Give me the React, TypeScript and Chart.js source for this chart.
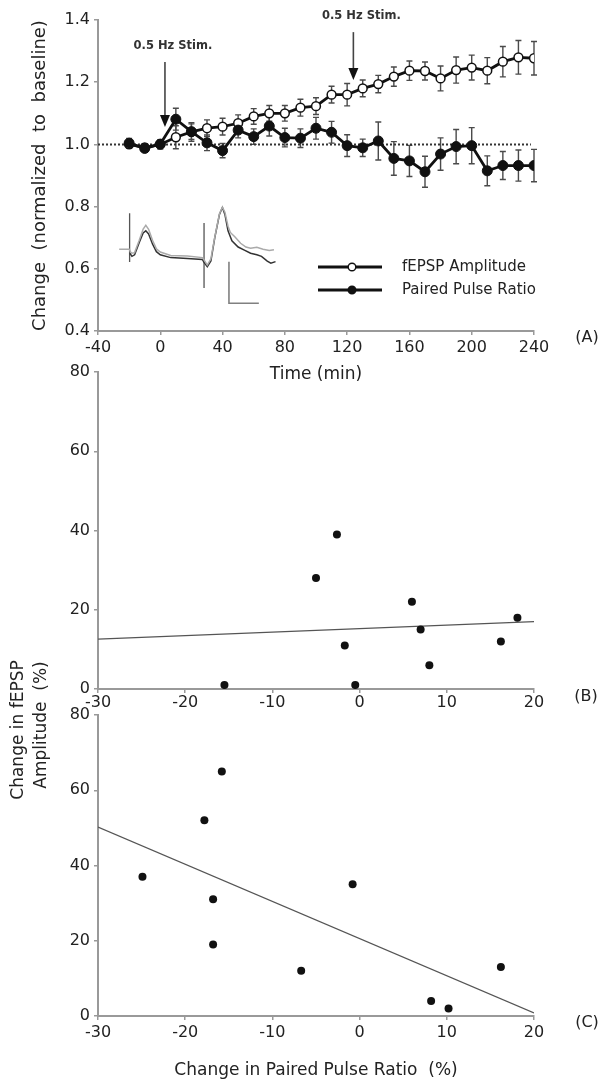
import React, { useEffect, useRef } from "react";
import { Chart, registerables } from "chart.js";

Chart.register(...registerables);

const FONT = "'DejaVu Sans', 'Liberation Sans', sans-serif";
Chart.defaults.font.family = FONT;

// ---------- Panel A data ----------
const timeMin = [-20, -10, 0, 10, 20, 30, 40, 50, 60, 70, 80, 90, 100, 110, 120, 130, 140, 150, 160, 170, 180, 190, 200, 210, 220, 230, 240];
const fepspAmp = [1.0, 0.99, 1.0, 1.023, 1.04, 1.052, 1.057, 1.068, 1.09, 1.1, 1.1, 1.118, 1.123, 1.16, 1.16, 1.18, 1.194, 1.218, 1.237, 1.236, 1.212, 1.239, 1.247, 1.237, 1.266, 1.28, 1.277];
const fepspErr = [0.012, 0.012, 0.015, 0.037, 0.03, 0.027, 0.027, 0.027, 0.025, 0.025, 0.025, 0.027, 0.027, 0.027, 0.036, 0.027, 0.028, 0.031, 0.031, 0.029, 0.04, 0.042, 0.04, 0.042, 0.049, 0.054, 0.054];
const pprRatio = [1.004, 0.987, 1.001, 1.081, 1.041, 1.005, 0.98, 1.046, 1.025, 1.059, 1.022, 1.02, 1.052, 1.039, 0.996, 0.989, 1.011, 0.955, 0.947, 0.912, 0.969, 0.993, 0.996, 0.915, 0.932, 0.932, 0.932];
const pprErr = [0.015, 0.01, 0.01, 0.035, 0.025, 0.025, 0.023, 0.025, 0.025, 0.032, 0.03, 0.03, 0.035, 0.035, 0.035, 0.028, 0.061, 0.054, 0.05, 0.05, 0.052, 0.055, 0.058, 0.048, 0.045, 0.05, 0.052];
const baselineT = [-40, 238];
const baselineV = [1.0, 1.0];
const xTicksA = { min: -40, max: 240, step: 40 };
const yTicksA = { min: 0.4, max: 1.4, step: 0.2 };

// stimulation annotations (time, arrow top value, arrow tip value)
const stimTimes = [3, 124];
const stimArrowTop = [1.265, 1.361];
const stimArrowTip = [1.056, 1.207];
const stimLabels = ["0.5 Hz Stim.", "0.5 Hz Stim."];

// inset sample traces (expressed in panel A axis units)
const traceGrey: number[][] = [
  [-26.4, 0.663], [-19.9, 0.663], [-19.2, 0.655], [-18.2, 0.65], [-16.5, 0.652], [-13.5, 0.692], [-11, 0.728], [-9.3, 0.74],
  [-7.5, 0.727], [-5, 0.692], [-2.5, 0.664], [0, 0.654], [6.7, 0.643], [17.4, 0.641], [27, 0.636], [28.2, 0.628],
  [30.2, 0.612], [32.5, 0.632], [35, 0.702], [38, 0.777], [39.9, 0.798], [41.5, 0.782], [43.5, 0.737], [45, 0.717],
  [48, 0.702], [51.6, 0.682], [55, 0.67], [58, 0.666], [62, 0.669], [66, 0.663], [70, 0.659], [73, 0.661],
];
const traceBlack: number[][] = [
  [-19.5, 0.65], [-18.2, 0.64], [-16.5, 0.645], [-13.5, 0.685], [-11, 0.715], [-9.3, 0.722], [-7.5, 0.712], [-5, 0.68],
  [-2.5, 0.655], [0, 0.645], [6.7, 0.636], [17.4, 0.633], [27, 0.63], [28.2, 0.62], [30.2, 0.607], [32.5, 0.625],
  [35, 0.7], [38, 0.775], [39.9, 0.797], [41.5, 0.775], [43.5, 0.722], [46, 0.69], [50, 0.67], [54, 0.66],
  [58, 0.65], [62, 0.645], [65, 0.64], [68.7, 0.625], [71, 0.618], [74, 0.623],
];
const artifact1: number[][] = [[-19.7, 0.779], [-19.7, 0.622]];
const artifact2: number[][] = [[28.1, 0.747], [28.1, 0.538]];
const scaleBar: number[][] = [[44.1, 0.623], [44.1, 0.489], [63.3, 0.489]];

// ---------- Panel B data ----------
const pprChangeB = [-15.5, -5, -2.6, -1.7, -0.5, 6, 7, 8, 16.2, 18.1];
const fepspChangeB = [1, 28, 39, 11, 1, 22, 15, 6, 12, 18];
const fitBx = [-30, 20];
const fitBy = [12.6, 17.0];

// ---------- Panel C data ----------
const pprChangeC = [-24.9, -17.8, -16.8, -16.8, -15.8, -6.7, -0.8, 8.2, 10.2, 16.2];
const fepspChangeC = [37, 52, 31, 19, 65, 12, 35, 4, 2, 13];
const fitCx = [-30, 20];
const fitCy = [50.2, 0.8];

const xTicksBC = { min: -30, max: 20, step: 10 };
const yTicksBC = { min: 0, max: 80, step: 20 };

// ---------- helpers ----------
const TXT = "#222";
const AXIS = "#999";

const pts = (xs: number[], ys: number[]) => xs.map((x, i) => ({ x, y: ys[i] }));
const pairs = (arr: number[][]) => arr.map(([x, y]) => ({ x, y }));

function axis(min: number, max: number, step: number, pad: number, fmt?: (v: any) => string) {
  return {
    type: "linear",
    min,
    max,
    ticks: {
      stepSize: step,
      color: TXT,
      font: { family: FONT, size: 16 },
      padding: pad,
      maxRotation: 0,
      autoSkip: false,
      ...(fmt ? { callback: fmt } : {}),
    },
    grid: { display: true, drawOnChartArea: false, drawTicks: true, tickLength: 4, color: AXIS, lineWidth: 1.5 },
    border: { display: true, color: AXIS, width: 2 },
  };
}

const errorBarPlugin = {
  id: "errorBars",
  beforeDatasetsDraw(chart: any) {
    const ctx = chart.ctx;
    const yScale = chart.scales.y;
    chart.data.datasets.forEach((ds: any, i: number) => {
      if (!ds.errors) return;
      const meta = chart.getDatasetMeta(i);
      ctx.save();
      ctx.strokeStyle = "#4a4a4a";
      ctx.lineWidth = 1.4;
      meta.data.forEach((el: any, j: number) => {
        const v = ds.data[j].y;
        const e = ds.errors[j];
        const x = el.x;
        const yT = yScale.getPixelForValue(v + e);
        const yB = yScale.getPixelForValue(v - e);
        ctx.beginPath();
        ctx.moveTo(x, yT);
        ctx.lineTo(x, yB);
        ctx.moveTo(x - 3, yT);
        ctx.lineTo(x + 3, yT);
        ctx.moveTo(x - 3, yB);
        ctx.lineTo(x + 3, yB);
        ctx.stroke();
      });
      ctx.restore();
    });
  },
};

const annotA = {
  id: "annotA",
  afterDraw(chart: any) {
    const ctx = chart.ctx;
    const xs = chart.scales.x;
    const ys = chart.scales.y;
    ctx.save();
    // stimulation arrows
    stimTimes.forEach((t, i) => {
      const x = xs.getPixelForValue(t);
      const y0 = ys.getPixelForValue(stimArrowTop[i]);
      const y1 = ys.getPixelForValue(stimArrowTip[i]);
      ctx.strokeStyle = "#444";
      ctx.fillStyle = "#111";
      ctx.lineWidth = 1.6;
      ctx.beginPath();
      ctx.moveTo(x, y0);
      ctx.lineTo(x, y1 - 10);
      ctx.stroke();
      ctx.beginPath();
      ctx.moveTo(x, y1);
      ctx.lineTo(x - 5, y1 - 12);
      ctx.lineTo(x + 5, y1 - 12);
      ctx.closePath();
      ctx.fill();
      ctx.fillStyle = "#333";
      ctx.font = `bold 11.5px ${FONT}`;
      ctx.textAlign = "center";
      ctx.textBaseline = "middle";
      ctx.fillText(stimLabels[i], x + 8, y0 - 16);
    });
    // legend
    const rows = [
      { label: "fEPSP Amplitude", fill: "#fff", y: 267 },
      { label: "Paired Pulse Ratio", fill: "#111", y: 290 },
    ];
    rows.forEach((r) => {
      ctx.strokeStyle = "#111";
      ctx.lineWidth = 2.8;
      ctx.beginPath();
      ctx.moveTo(318, r.y);
      ctx.lineTo(382, r.y);
      ctx.stroke();
      ctx.beginPath();
      ctx.arc(352, r.y, 3.8, 0, Math.PI * 2);
      ctx.fillStyle = r.fill;
      ctx.fill();
      ctx.lineWidth = 1.4;
      ctx.stroke();
      ctx.fillStyle = TXT;
      ctx.font = `15px ${FONT}`;
      ctx.textAlign = "left";
      ctx.textBaseline = "middle";
      ctx.fillText(r.label, 402, r.y);
    });
    ctx.font = `16px ${FONT}`;
    ctx.textAlign = "center";
    ctx.fillStyle = TXT;
    ctx.fillText("(A)", 587, 338);
    ctx.restore();
  },
};

const annotB = {
  id: "annotB",
  afterDraw(chart: any) {
    const ctx = chart.ctx;
    ctx.save();
    ctx.fillStyle = TXT;
    ctx.font = `16px ${FONT}`;
    ctx.textAlign = "center";
    ctx.textBaseline = "middle";
    ctx.fillText("(B)", 586, 347);
    ctx.font = `17px ${FONT}`;
    ctx.translate(19, 380);
    ctx.rotate(-Math.PI / 2);
    ctx.fillText("Change in fEPSP", 0, 0);
    ctx.restore();
    ctx.save();
    ctx.fillStyle = TXT;
    ctx.font = `17px ${FONT}`;
    ctx.textAlign = "center";
    ctx.textBaseline = "middle";
    ctx.translate(42, 375);
    ctx.rotate(-Math.PI / 2);
    ctx.fillText("Amplitude  (%)", 0, 0);
    ctx.restore();
  },
};

const annotC = {
  id: "annotC",
  afterDraw(chart: any) {
    const ctx = chart.ctx;
    ctx.save();
    ctx.fillStyle = TXT;
    ctx.font = `16px ${FONT}`;
    ctx.textAlign = "center";
    ctx.textBaseline = "middle";
    ctx.fillText("(C)", 587, 323);
    ctx.restore();
  },
};

const noPlugins = { legend: { display: false }, tooltip: { enabled: false } };

function configA(): any {
  const traceDs = (data: number[][], color: string, w: number) => ({
    type: "line",
    data: pairs(data),
    borderColor: color,
    borderWidth: w,
    pointRadius: 0,
    fill: false,
    tension: 0,
    order: 6,
  });
  return {
    type: "line",
    data: {
      datasets: [
        {
          label: "fEPSP Amplitude",
          data: pts(timeMin, fepspAmp),
          errors: fepspErr,
          borderColor: "#111",
          borderWidth: 2.8,
          pointRadius: 4.4,
          pointBackgroundColor: "#fff",
          pointBorderColor: "#111",
          pointBorderWidth: 1.5,
          tension: 0,
          order: 2,
        },
        {
          label: "Paired Pulse Ratio",
          data: pts(timeMin, pprRatio),
          errors: pprErr,
          borderColor: "#111",
          borderWidth: 2.8,
          pointRadius: 5,
          pointBackgroundColor: "#111",
          pointBorderColor: "#111",
          pointBorderWidth: 1,
          tension: 0,
          order: 1,
        },
        {
          label: "baseline",
          data: pts(baselineT, baselineV),
          borderColor: "#333",
          borderWidth: 2,
          borderDash: [2, 2],
          pointRadius: 0,
          order: 5,
        },
        traceDs(traceGrey, "#aaa", 1.5),
        traceDs(traceBlack, "#333", 1.5),
        traceDs(artifact1, "#555", 1.3),
        traceDs(artifact2, "#555", 1.3),
        traceDs(scaleBar, "#808080", 1.6),
      ],
    },
    options: {
      animation: false,
      responsive: false,
      layout: { padding: { top: 20, right: 69, left: 0, bottom: 0 } },
      plugins: noPlugins,
      scales: {
        x: {
          ...axis(xTicksA.min, xTicksA.max, xTicksA.step, 3),
          afterFit: (s: any) => {
            s.height = 54;
          },
          title: { display: true, text: "Time (min)", color: TXT, font: { family: FONT, size: 17 }, padding: { top: 0, bottom: 0 } },
        },
        y: {
          ...axis(yTicksA.min, yTicksA.max, yTicksA.step, 4, (v: any) => Number(v).toFixed(1)),
          afterFit: (s: any) => {
            s.width = 98;
          },
          title: {
            display: true,
            text: "Change  (normalized  to  baseline)",
            color: TXT,
            font: { family: FONT, size: 18 },
            padding: { top: 30, bottom: 0 },
          },
        },
      },
    },
    plugins: [errorBarPlugin, annotA],
  };
}

function scatterConfig(xs: number[], ys: number[], fx: number[], fy: number[], xh: number, padTop: number, padBottom: number, tickPad: number, plugin: any, xTitle?: string, titlePad?: number): any {
  return {
    type: "scatter",
    data: {
      datasets: [
        {
          type: "scatter",
          data: pts(xs, ys),
          pointRadius: 4,
          pointBackgroundColor: "#111",
          pointBorderColor: "#111",
          pointBorderWidth: 0,
          order: 1,
        },
        {
          type: "line",
          data: pts(fx, fy),
          borderColor: "#555",
          borderWidth: 1.3,
          pointRadius: 0,
          order: 2,
        },
      ],
    },
    options: {
      animation: false,
      responsive: false,
      layout: { padding: { top: padTop, right: 69, left: 0, bottom: padBottom } },
      plugins: noPlugins,
      scales: {
        x: {
          ...axis(xTicksBC.min, xTicksBC.max, xTicksBC.step, tickPad),
          afterFit: (s: any) => {
            s.height = xh;
          },
          title: xTitle
            ? { display: true, text: xTitle, color: TXT, font: { family: FONT, size: 17 }, padding: { top: 0, bottom: titlePad } }
            : { display: false },
        },
        y: {
          ...axis(yTicksBC.min, yTicksBC.max, yTicksBC.step, 4),
          afterFit: (s: any) => {
            s.width = 98;
          },
        },
      },
    },
    plugins: [plugin],
  };
}

function Panel({ top, height, make }: { top: number; height: number; make: () => any }) {
  const ref = useRef<HTMLCanvasElement | null>(null);
  useEffect(() => {
    if (!ref.current) return;
    const chart = new Chart(ref.current, make());
    return () => chart.destroy();
  }, []);
  return (
    <canvas
      ref={ref}
      width={603}
      height={height}
      style={{ position: "absolute", left: 0, top, width: 603, height, display: "block" }}
    />
  );
}

export default function App() {
  return (
    <div style={{ position: "absolute", left: 0, top: 0, width: 603, height: 1085, background: "#fff", overflow: "hidden" }}>
      <Panel top={0} height={385} make={configA} />
      <Panel
        top={350}
        height={450}
        make={() => scatterConfig(pprChangeB, fepspChangeB, fitBx, fitBy, 21, 22, 90, 0, annotB)}
      />
      <Panel
        top={700}
        height={385}
        make={() => scatterConfig(pprChangeC, fepspChangeC, fitCx, fitCy, 69, 15, 0, 3, annotC, "Change in Paired Pulse Ratio  (%)", 4)}
      />
    </div>
  );
}
